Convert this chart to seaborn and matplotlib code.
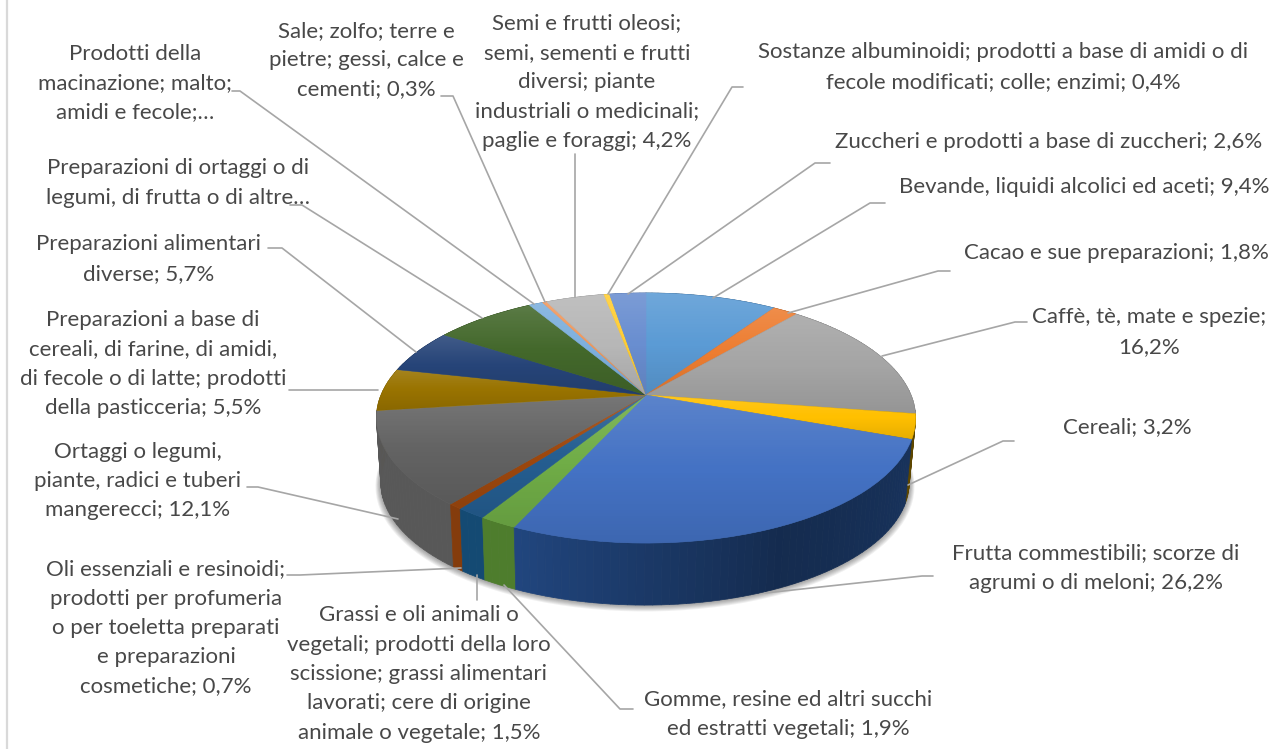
import matplotlib
matplotlib.use('Agg')
import matplotlib.pyplot as plt
import matplotlib.transforms as mtransforms
from matplotlib.collections import PolyCollection
import numpy as np
import seaborn as sns

categories = [
	"Bevande, liquidi alcolici ed aceti", "Cacao e sue preparazioni", "Caffè, tè, mate e spezie",
	"Cereali", "Frutta commestibili", "Gomme, resine", "Grassi e oli", "Oli essenziali",
	"Ortaggi o legumi", "Preparazioni a base di cereali", "Preparazioni alimentari diverse",
	"Preparazioni di ortaggi", "Prodotti della macinazione", "Sale", "Semi e frutti oleosi",
	"Sostanze albuminoidi", "Zuccheri",
]
values = [9.4, 1.8, 16.2, 3.2, 26.2, 1.9, 1.5, 0.7, 12.1, 5.5, 5.7, 7.3, 1.0, 0.3, 4.2, 0.4, 2.6]

slice_colors = ['#5B9BD5', '#ED7D31', '#A5A5A5', '#FFC000', '#4472C4', '#70AD47', '#255E91', '#9E480E', '#636363',
	'#997300', '#264478', '#43682B', '#7CAFDD', '#F1975A', '#B7B7B7', '#FFCD33', '#698ED0']
wall_colors = ['#3A6A96', '#A0521C', '#707070', '#7F6000', '#21467F', '#4E7D2D', '#144A73', '#843C0C', '#585858',
	'#665000', '#1A2E50', '#2D451C', '#5A7F9F', '#A06030', '#808080', '#A08020', '#46608C']

label_texts = [
	"Bevande, liquidi alcolici ed aceti; 9,4%",
	"Cacao e sue preparazioni; 1,8%",
	"Caffè, tè, mate e spezie;\n16,2%",
	"Cereali; 3,2%",
	"Frutta commestibili; scorze di\nagrumi o di meloni; 26,2%",
	"Gomme, resine ed altri succhi\ned estratti vegetali; 1,9%",
	"Grassi e oli animali o\nvegetali; prodotti della loro\nscissione; grassi alimentari\nlavorati; cere di origine\nanimale o vegetale; 1,5%",
	"Oli essenziali e resinoidi;\nprodotti per profumeria\no per toeletta preparati\ne preparazioni\ncosmetiche; 0,7%",
	"Ortaggi o legumi,\npiante, radici e tuberi\nmangerecci; 12,1%",
	"Preparazioni a base di\ncereali, di farine, di amidi,\ndi fecole o di latte; prodotti\ndella pasticceria; 5,5%",
	"Preparazioni alimentari\ndiverse; 5,7%",
	"Preparazioni di ortaggi o di\nlegumi, di frutta o di altre…",
	"Prodotti della\nmacinazione; malto;\namidi e fecole;…",
	"Sale; zolfo; terre e\npietre; gessi, calce e\ncementi; 0,3%",
	"Semi e frutti oleosi;\nsemi, sementi e frutti\ndiversi; piante\nindustriali o medicinali;\npaglie e foraggi; 4,2%",
	"Sostanze albuminoidi; prodotti a base di amidi o di\nfecole modificati; colle; enzimi; 0,4%",
	"Zuccheri e prodotti a base di zuccheri; 2,6%",
]
label_x = [1084, 1116, 1149, 1127, 1096, 788, 419, 166, 138, 153, 149, 178, 135, 366, 587, 1003, 1049]
label_y = [187, 253, 332, 427, 568, 714, 674, 628, 481, 364, 259, 183, 83, 60, 82, 67, 142]

leader_x = [
	[885, 870, 713], [950, 938, 788], [1027, 1015, 882], [1014, 1003, 908], [933, 922, 765],
	[633, 620, 504], [477, 477], [287, 300, 461], [247, 258, 398], [289, 378], [268, 282, 416],
	[290, 302, 482], [232, 240, 534], [441, 453, 545], [575, 575], [743, 732, 608], [830, 815, 628],
]
leader_y = [
	[203, 203, 298], [271, 271, 313], [322, 322, 356], [441, 441, 485], [576, 576, 593],
	[709, 709, 585], [600, 575], [575, 575, 568], [487, 487, 519], [390, 390], [248, 248, 352],
	[205, 205, 318], [91, 91, 304], [96, 96, 302], [154, 297], [87, 87, 294], [163, 163, 294],
]


class TiltedDisc(mtransforms.Transform):
	# unit circle of the pie -> pixels, seen in perspective
	input_dims = 2
	output_dims = 2
	is_separable = False
	has_inverse = False

	def __init__(self, cx, cy, scale=1.0):
		super().__init__()
		self.cx, self.cy, self.scale = cx, cy, scale

	def transform_non_affine(self, xy):
		xy = np.asarray(xy)
		w = 1 + 0.184 * xy[:, 1]
		return np.column_stack([self.cx + self.scale * 265 * xy[:, 0] / w,
			self.cy - self.scale * 120.8 * xy[:, 1] / w])


sns.set_theme(style='white')
plt.rcParams['font.family'] = ['Lato', 'DejaVu Sans']

fig = plt.figure(figsize=(12.71, 7.49), dpi=100)
ax = fig.add_axes([0, 0, 1, 1])

top = TiltedDisc(646, 395)
base = TiltedDisc(645, 460, 0.98)

wedges, _ = ax.pie(values, colors=sns.color_palette(slice_colors), startangle=90, counterclock=False,
	wedgeprops=dict(linewidth=0.4, zorder=5))
for w in wedges:
	w.set_edgecolor(w.get_facecolor())
	w.set_transform(top + ax.transData)

ax.set_aspect('auto')
ax.axis('off')

# soft shadow under the disc
for i in range(8):
	shadow = TiltedDisc(645, 460 + i * 0.5, 0.98 + i * 0.0028)
	ax.add_patch(plt.Circle((0, 0), 1, transform=shadow + ax.transData, fc='black', ec='none', alpha=0.06, zorder=1))

# side wall, thin strips so that the shade can change along the rim
edges = np.cumsum([0] + values) / sum(values) * 360
quads, quad_colors, depth = [], [], []
for i in range(len(values)):
	n = max(int((edges[i + 1] - edges[i]) / 1.5), 1)
	angles = np.linspace(edges[i], edges[i + 1], n + 1)
	rgb = np.array(matplotlib.colors.to_rgb(wall_colors[i]))
	for a0, a1 in zip(angles[:-1], angles[1:]):
		r0, r1 = np.radians([a0, a1])
		ring = np.array([[np.sin(r0), np.cos(r0)], [np.sin(r1), np.cos(r1)]])
		quads.append(np.vstack([top.transform(ring), base.transform(ring)[::-1]]))
		shade = np.interp((a0 + a1) / 2, [100, 155, 205], [0.75, 0.62, 1.0])
		quad_colors.append(rgb * shade)
		depth.append(ring[:, 1].mean())
# far strips first, near strips cover them
order = np.argsort(depth)[::-1]
quads = [quads[k] for k in order]
quad_colors = [quad_colors[k] for k in order]
ax.add_collection(PolyCollection(quads, facecolors=quad_colors, edgecolors=quad_colors, linewidths=0.5, zorder=2))

# every slice of the top face gets its own vertical light
for w in wedges:
	y_px = top.transform(w.get_path().vertices)[:, 1]
	x_px = top.transform(w.get_path().vertices)[:, 0]
	light = np.zeros((64, 1, 4))
	light[:32, 0, :3] = 1
	light[:, 0, 3] = np.interp(np.arange(64), [0, 32, 63], [0.13, 0.0, 0.10])
	glow = ax.imshow(light, extent=(x_px.min() - 2, x_px.max() + 2, y_px.max() + 1, y_px.min() - 1), aspect='auto', zorder=6)
	glow.set_clip_path(w)

ax.set_xlim(0, 1271)
ax.set_ylim(749, 0)

for xs, ys in zip(leader_x, leader_y):
	ax.plot(xs, ys, color='#A6A6A6', lw=1.2, zorder=7, solid_joinstyle='round')

for x, y, t in zip(label_x, label_y, label_texts):
	ax.text(x, y, t, ha='center', va='center', fontsize=16, color='#484848', linespacing=1.58, zorder=8)

# thin frame line on the left side of the picture
ax.plot([7, 7], [0, 749], color='#D9D9D9', lw=1.6, zorder=0)

fig.savefig('out.png', dpi=100)
